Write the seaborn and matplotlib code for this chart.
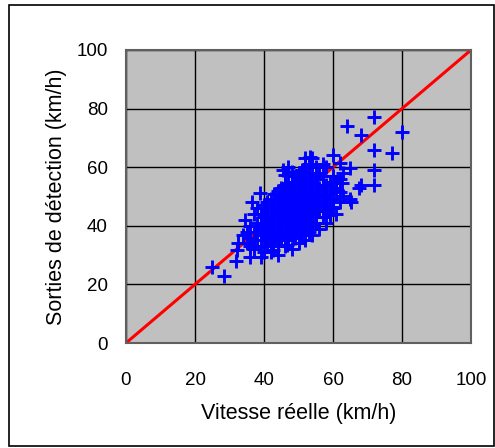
import matplotlib
matplotlib.use("Agg")
import matplotlib.pyplot as plt
import seaborn as sns
import pandas as pd
from matplotlib.patches import Rectangle

# ---- data ----
real_speed = [
    40, 41, 42, 43, 44, 45, 46, 47, 48, 49, 50, 51, 52, 53, 54, 55, 56, 57, 58, 59,
    41, 42, 43, 44, 45, 46, 47, 48, 49, 50, 51, 52, 53, 54, 55, 56, 57, 58, 60, 61,
    39, 40, 41, 42, 43, 44, 45, 46, 47, 48, 49, 50, 51, 52, 53, 54, 55, 56, 57, 58,
    37, 38, 38, 39, 40, 41, 42, 43, 44, 45, 46, 47, 48, 49, 50, 51, 52, 53, 54, 55,
    44, 45, 46, 47, 48, 49, 50, 51, 52, 53, 54, 55, 56, 57, 58, 59, 60, 61, 62, 60,
    43, 44, 45, 46, 47, 48, 49, 50, 51, 52, 53, 54, 46, 47, 48, 49, 50, 51, 52, 53,
    36, 37, 38, 39, 40, 41, 42, 43, 44, 45, 46, 47, 48, 49, 50, 51, 52, 53, 55, 57,
    35, 36, 37, 39, 40, 42, 44, 46, 48, 50, 52, 54, 56, 58, 59, 60, 62, 63, 61, 57,
    45, 46, 47, 48, 49, 50, 51, 52, 53, 54, 44, 45, 46, 47, 48, 49, 50, 51, 52, 53,
    42, 43, 44, 45, 46, 47, 48, 49, 50, 51, 40, 41, 42, 43, 44, 45, 46, 50, 52, 54,
    36, 37, 38, 39, 35, 55, 56, 57, 58, 59,
    72, 64, 68, 80, 72, 77, 72, 68, 72, 65, 60, 28.5, 25, 32, 39, 36, 42.6, 46.6,
    45.6, 51.9, 67.5, 65.2, 65, 63, 62, 62.5, 62, 59, 59.6, 53.8, 38.8, 36.4, 34.5,
    34, 32.1, 32.6, 47, 48, 53.3, 47, 46,
]
detected_speed = [
    38, 42, 40, 44, 41, 43, 46, 44, 47, 45, 48, 46, 50, 48, 51, 49, 53, 50, 54, 52,
    36, 37, 39, 36, 38, 40, 39, 41, 40, 42, 41, 43, 42, 44, 43, 45, 46, 47, 49, 52,
    40, 43, 45, 46, 47, 49, 48, 50, 51, 52, 53, 54, 55, 56, 57, 58, 56, 58, 57, 60,
    38, 35, 41, 37, 35, 33, 34, 35, 33, 35, 36, 35, 37, 36, 38, 37, 39, 38, 40, 41,
    45, 45, 44, 47, 45, 49, 46, 50, 47, 51, 47, 52, 48, 54, 51, 55, 57, 55, 56, 53,
    42, 43, 41, 42, 42, 43, 43, 44, 44, 45, 45, 46, 48, 49, 50, 51, 51, 52, 53, 54,
    40, 44, 46, 44, 47, 48, 49, 51, 52, 53, 54, 53, 55, 57, 58, 59, 60, 61, 60, 61,
    34, 33, 32, 33, 31, 31, 30, 33, 32, 34, 35, 37, 39, 41, 44, 46, 48, 50, 44, 43,
    44, 45, 46, 46, 47, 47, 48, 48, 49, 49, 40, 40, 41, 41, 42, 42, 43, 43, 44, 46,
    38, 37, 38, 37, 38, 37, 39, 38, 40, 39, 40, 39, 43, 41, 47, 50, 52, 56, 58, 55,
    36, 35, 38, 39, 38, 46, 50, 48, 45, 49,
    77, 74, 71, 72, 66, 65, 59, 54, 54, 49, 64, 23, 26, 28, 29.5, 29.5, 31.7, 33.4,
    59, 63, 53, 48.2, 59.6, 58, 61.3, 54.5, 51.6, 43.7, 46.5, 63, 51.1, 48.2, 42,
    36.9, 31.7, 34, 54.5, 58.5, 63.6, 60.2, 57.3,
]
line_x = [0, 100]
line_y = [0, 100]
ticks = [0, 20, 40, 60, 80, 100]
xlabel = "Vitesse réelle (km/h)"
ylabel = "Sorties de détection (km/h)"

df = pd.DataFrame({"x": real_speed, "y": detected_speed})
line_df = pd.DataFrame({"x": line_x, "y": line_y})

sns.set_theme(style="white")
plt.rcParams["font.family"] = ["Liberation Sans", "DejaVu Sans"]

fig = plt.figure(figsize=(4.95, 4.48), dpi=100)
ax = fig.add_axes([126 / 495, 1 - 343 / 448, 345 / 495, 293 / 448])
ax.set_facecolor("#c0c0c0")

sns.lineplot(data=line_df, x="x", y="y", color="#ff0000", linewidth=2.2, ax=ax, zorder=2)
sns.scatterplot(data=df, x="x", y="y", marker="+", color="#0000ff", s=110,
                linewidth=2.1, ax=ax, zorder=3)

ax.set_xlim(0, 100)
ax.set_ylim(0, 100)
ax.set_xticks(ticks)
ax.set_yticks(ticks)
ax.set_xticklabels([str(t) for t in ticks])
ax.set_yticklabels([str(t) for t in ticks])
ax.grid(True, color="black", linewidth=1.0, zorder=1)
ax.set_axisbelow(True)
ax.tick_params(axis="both", length=0, labelsize=13.5, colors="black")
ax.tick_params(axis="x", pad=21)
ax.tick_params(axis="y", pad=13)
ax.set_xlabel(xlabel, fontsize=15.5, color="black")
ax.set_ylabel(ylabel, fontsize=15.5, color="black")
ax.xaxis.set_label_coords(0.5, -0.205)
ax.yaxis.set_label_coords(-0.17, 0.5)
for side, sp in ax.spines.items():
    sp.set_visible(True)
    sp.set_color("#606060")
    sp.set_linewidth(1.5)

fig.patches.append(Rectangle((9 / 495, 2 / 448), 485 / 495, 441 / 448,
                             transform=fig.transFigure, fill=False,
                             edgecolor="black", linewidth=1.2))

fig.savefig("out.png", dpi=100, facecolor="white")
